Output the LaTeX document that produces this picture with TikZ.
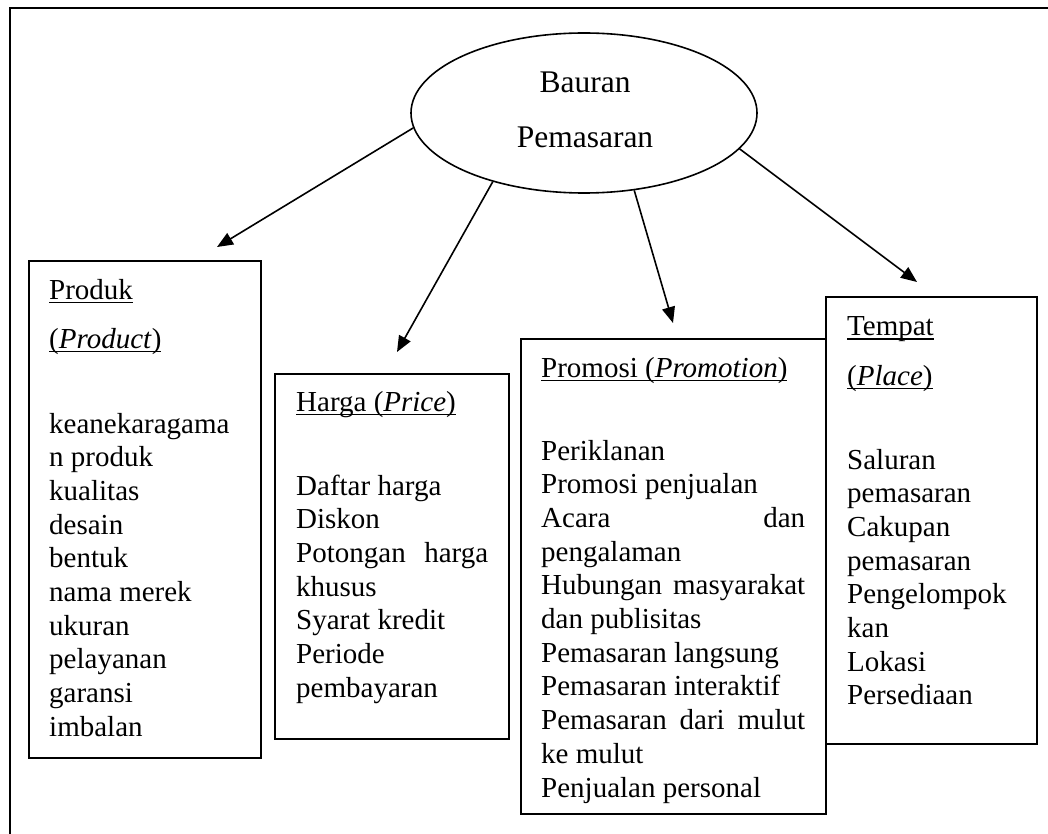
\documentclass[tikz,border=0pt]{standalone}
\usepackage{fontspec}
\setmainfont{Liberation Serif}
\usetikzlibrary{shapes.geometric,arrows.meta}
\newcommand\ulx[1]{\leavevmode\setbox0=\hbox{#1}\rlap{\rule[-4pt]{\wd0}{1.4pt}}\box0}
\newcommand\fullline[1]{\makebox[\linewidth][s]{#1}}
\begin{document}
\begin{tikzpicture}[x=1pt,y=-1pt,
  box/.style={draw, line width=1.8pt, rectangle, inner sep=0pt},
  txt/.style={anchor=base west, inner sep=0pt, font=\fontsize{29}{33.7}\selectfont},
  etxt/.style={anchor=base, inner sep=0pt, font=\fontsize{31.5}{36}\selectfont},
  arr/.style={line width=1.6pt, -{Triangle[length=16pt,width=13pt]}}]
\useasboundingbox (0,0) rectangle (1048,834);
% outer frame
\draw[line width=1.2pt] (10,834) -- (10,8) -- (1048,8);
% central ellipse
\node[ellipse, draw, line width=1.6pt, minimum width=346pt, minimum height=160pt, inner sep=0pt] (ell) at (584,113) {};
\node[etxt] (ellt1) at (585,93) {Bauran};
\node[etxt] (ellt2) at (585,148) {Pemasaran};
% boxes
\node[box, minimum width=232pt, minimum height=497pt] (prod) at (145,509.5) {};
\node[box, minimum width=234pt, minimum height=365pt] (harga) at (392,556.5) {};
\node[box, minimum width=305pt, minimum height=475pt] (promo) at (673.5,576.5) {};
\node[box, minimum width=211pt, minimum height=447pt] (tempat) at (931.5,520.5) {};
% texts
\node[txt] (prodt) at (49,299) {\parbox[t]{212pt}{\ulx{Produk}\\[15.3pt]\ulx{(\textit{Product})}\\[51.3pt]keanekaragama\\n produk\\kualitas\\desain\\bentuk\\nama merek\\ukuran\\pelayanan\\garansi\\imbalan}};
\node[txt] (hargat) at (296,411) {\parbox[t]{192pt}{\ulx{Harga (\textit{Price})}\\[50.3pt]Daftar harga\\Diskon\\\fullline{Potongan harga}\\khusus\\Syarat kredit\\Periode\\pembayaran}};
\node[txt] (promot) at (541,377) {\parbox[t]{264pt}{\ulx{Promosi (\textit{Promotion})}\\[49.3pt]Periklanan\\Promosi penjualan\\\fullline{Acara dan}\\pengalaman\\\fullline{Hubungan masyarakat}\\dan publisitas\\Pemasaran langsung\\Pemasaran interaktif\\\fullline{Pemasaran dari mulut}\\ke mulut\\Penjualan personal}};
\node[txt] (tempatt) at (847,335.5) {\parbox[t]{180pt}{\ulx{Tempat}\\[15.8pt]\ulx{(\textit{Place})}\\[50.3pt]Saluran\\pemasaran\\Cakupan\\pemasaran\\Pengelompok\\kan\\Lokasi\\Persediaan}};
% arrows
\coordinate (tip1) at (217,247);
\coordinate (tip2) at (397,352);
\coordinate (tip3) at (673,323);
\coordinate (tip4) at (917,282);
\draw[arr] (ell.185) -- (tip1);
\draw[arr] (ell.217.6) -- (tip2);
\draw[arr] (ell.303.2) -- (tip3);
\draw[arr] (ell.347.9) -- (tip4);
\end{tikzpicture}
\end{document}
